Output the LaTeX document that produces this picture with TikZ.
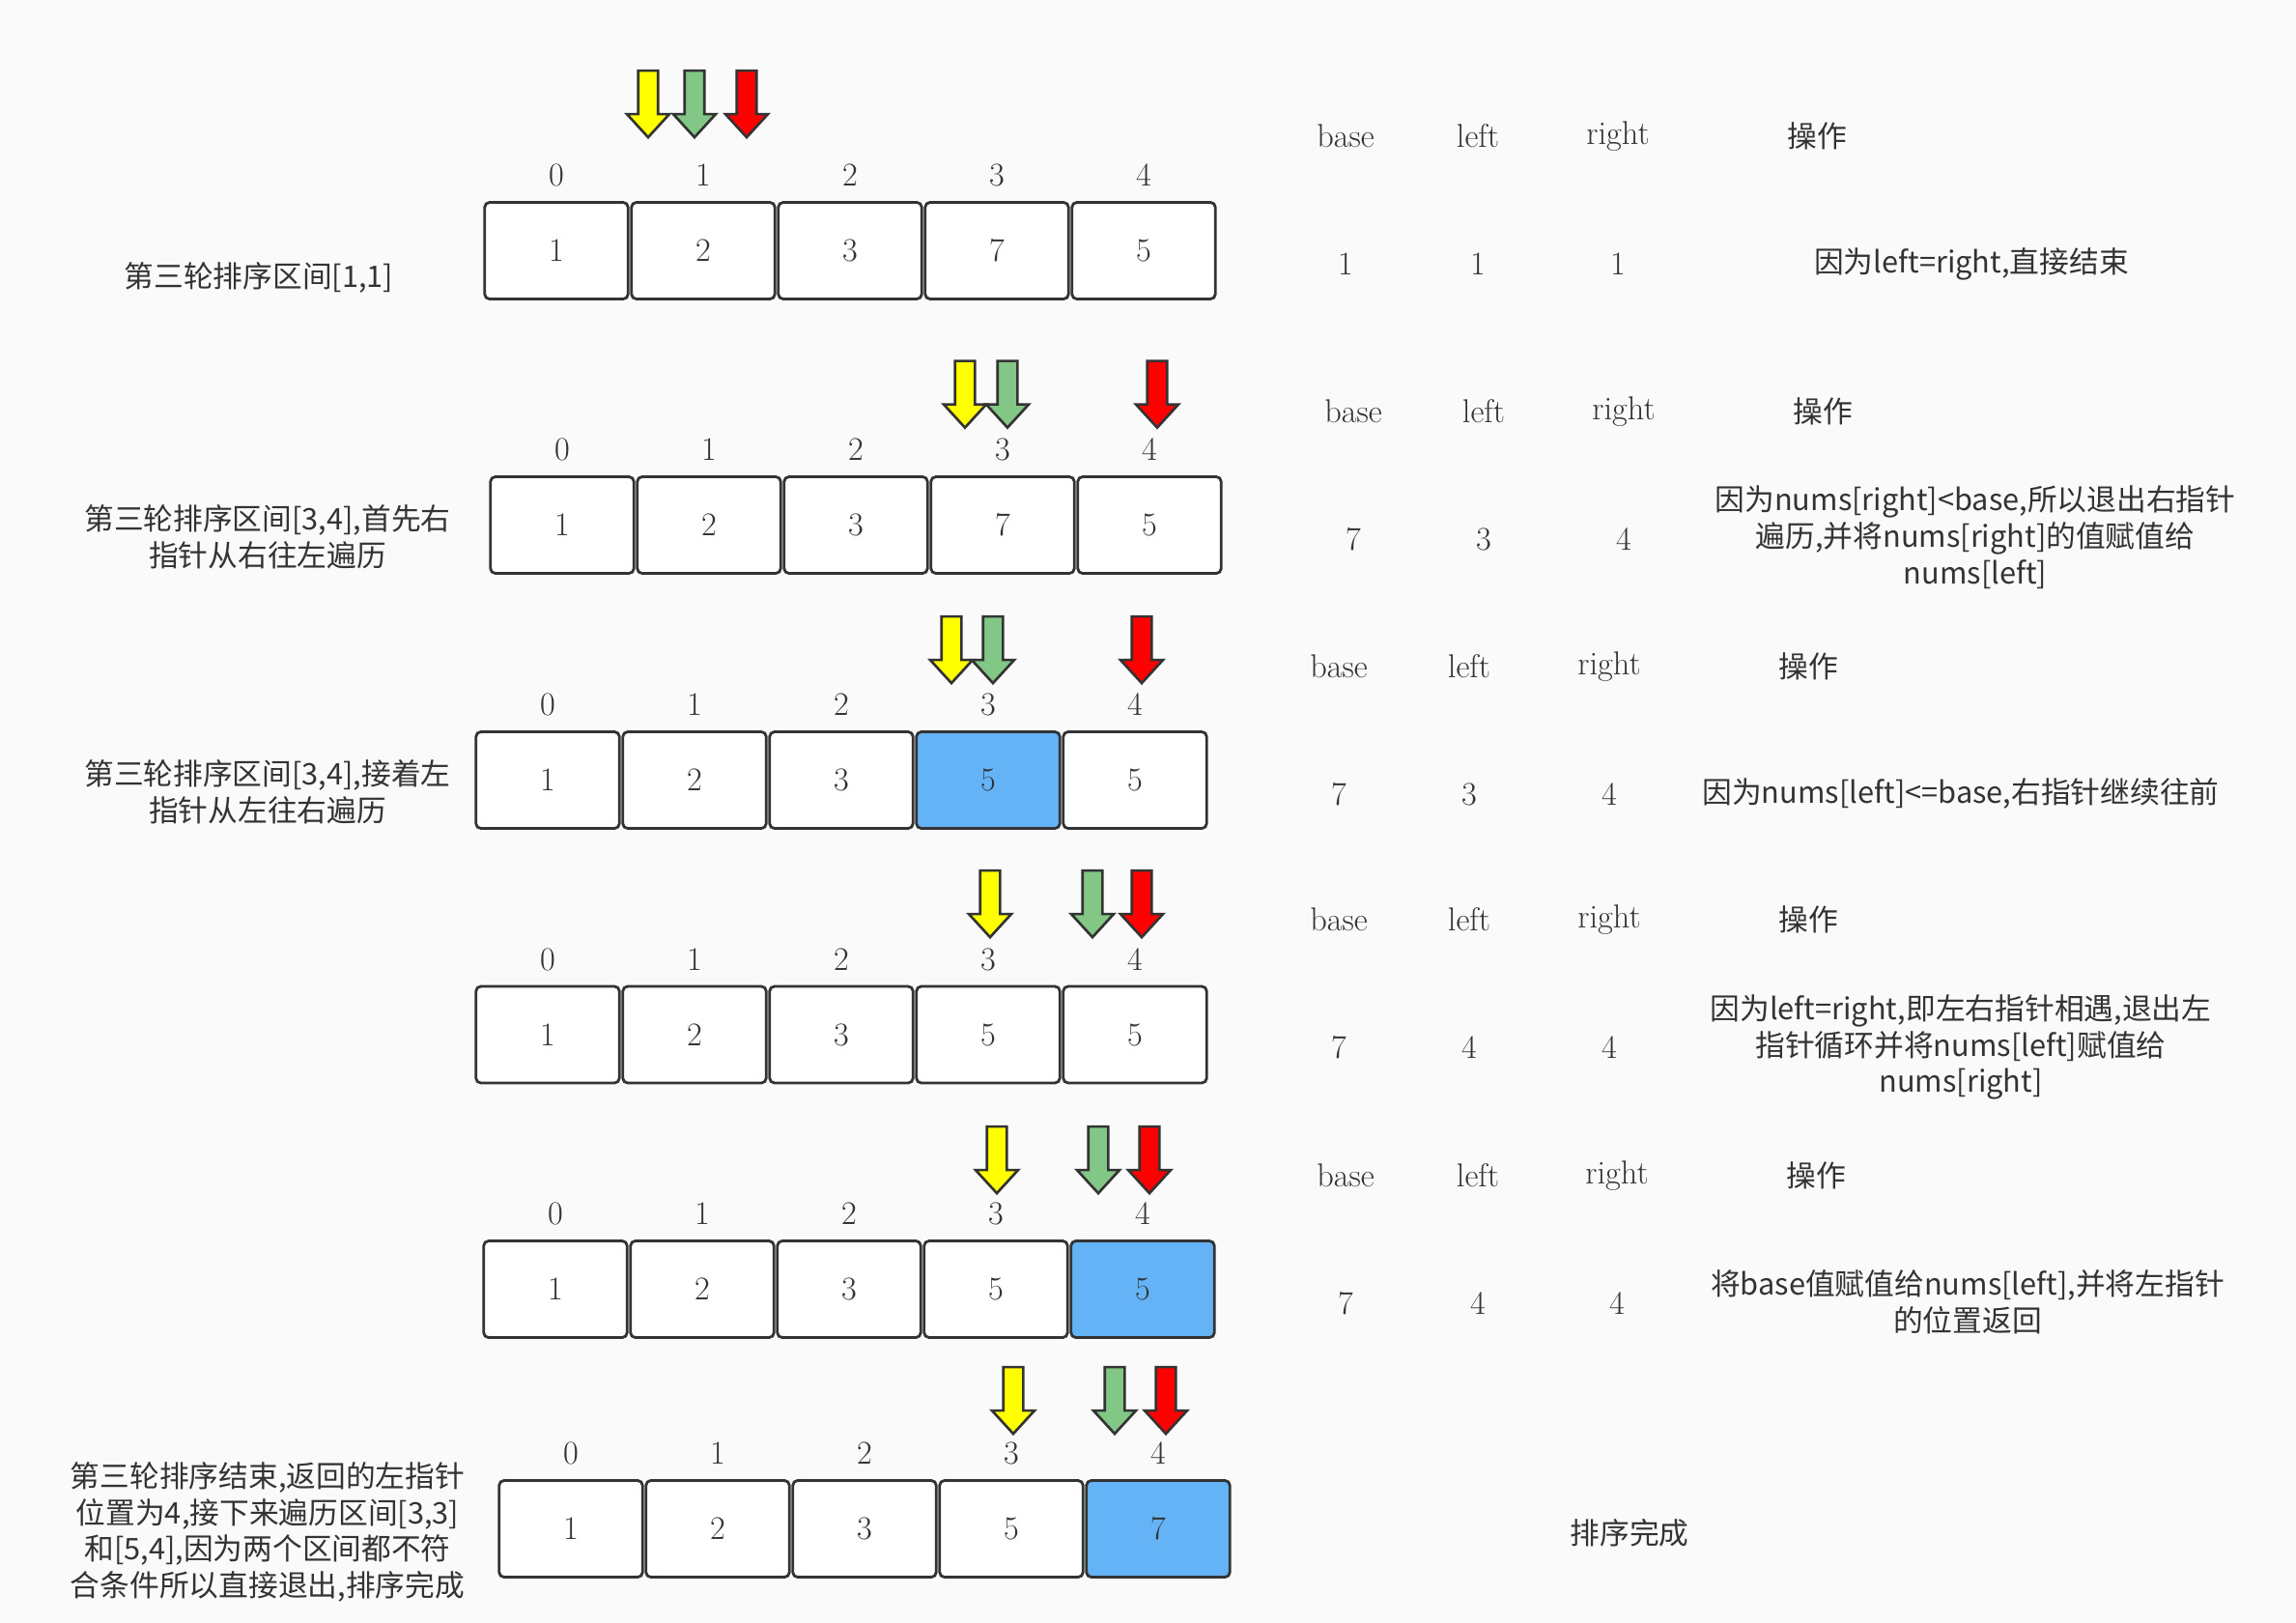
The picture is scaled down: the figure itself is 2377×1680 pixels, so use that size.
\documentclass[tikz,border=0pt]{standalone}
\usepackage{fontspec}
\usetikzlibrary{shapes.arrows,positioning}
\newfontfamily\cjk{Noto Sans CJK SC}

\definecolor{bgcol}{HTML}{FAFAFA}
\definecolor{edgecol}{HTML}{333333}
\definecolor{cellblue}{HTML}{63B3F6}
\definecolor{ptryellow}{HTML}{FFFF00}
\definecolor{ptrgreen}{HTML}{82C785}
\definecolor{ptrred}{HTML}{FF0000}

\begin{document}
\begin{tikzpicture}[
x=0.02cm,y=-0.02cm,
every node/.style={text=edgecol,font=\fontsize{19.5}{23}\selectfont},
cell/.style={draw=edgecol,line width=1.6pt,rounded corners=0.1cm,fill=white,
  minimum width=2.97cm,minimum height=2cm,inner sep=0pt},
hit/.style={cell,fill=cellblue},
idx/.style={inner sep=0pt,node distance=1.56cm},
ptr/.style={single arrow,draw=edgecol,line width=1.5pt,rotate=-90,
  minimum height=1.38cm,minimum width=0.88cm,inner sep=0.15cm,
  single arrow head extend=0.2cm,single arrow tip angle=85},
cn/.style={font=\cjk\fontsize{17.5}{21.5}\selectfont,align=center},
tab/.style={node distance=2.64cm}
]

  \fill[bgcol] (0,0) rectangle (2377,1680);
  \useasboundingbox (0,0) rectangle (2377,1680);

  % round [1,1]
  \foreach \v/\s [count=\i from 0] in {1/cell,2/cell,3/cell,7/cell,5/cell} {
    \node[\s] (r1c\i) at (576+152*\i,259.5) {\v};
    \node[idx,above of=r1c\i] (r1i\i) {\i};
  }
  \node[ptr,fill=ptryellow] (p1y) at (671,102) {};
  \node[ptr,fill=ptrgreen] (p1g) at (719,102) {};
  \node[ptr,fill=ptrred] (p1r) at (773,102) {};
  \node[cn] (lab1) at (268,287) {第三轮排序区间[1,1]};

  % round [3,4], right pointer first
  \foreach \v/\s [count=\i from 0] in {1/cell,2/cell,3/cell,7/cell,5/cell} {
    \node[\s] (r2c\i) at (582+152*\i,543.5) {\v};
    \node[idx,above of=r2c\i] (r2i\i) {\i};
  }
  \node[ptr,fill=ptryellow] (p2y) at (999,402.5) {};
  \node[ptr,fill=ptrgreen] (p2g) at (1043,402.5) {};
  \node[ptr,fill=ptrred] (p2r) at (1198,402.5) {};
  \node[cn] (lab2) at (277,556) {第三轮排序区间[3,4],首先右\\指针从右往左遍历};

  % round [3,4], then left pointer
  \foreach \v/\s [count=\i from 0] in {1/cell,2/cell,3/cell,5/hit,5/cell} {
    \node[\s] (r3c\i) at (567+152*\i,807.5) {\v};
    \node[idx,above of=r3c\i] (r3i\i) {\i};
  }
  \node[ptr,fill=ptryellow] (p3y) at (985,667) {};
  \node[ptr,fill=ptrgreen] (p3g) at (1028,667) {};
  \node[ptr,fill=ptrred] (p3r) at (1182,667) {};
  \node[cn] (lab3) at (277,820) {第三轮排序区间[3,4],接着左\\指针从左往右遍历};

  % left meets right
  \foreach \v/\s [count=\i from 0] in {1/cell,2/cell,3/cell,5/cell,5/cell} {
    \node[\s] (r4c\i) at (567+152*\i,1071) {\v};
    \node[idx,above of=r4c\i] (r4i\i) {\i};
  }
  \node[ptr,fill=ptryellow] (p4y) at (1025,930) {};
  \node[ptr,fill=ptrgreen] (p4g) at (1131,930) {};
  \node[ptr,fill=ptrred] (p4r) at (1182,930) {};

  % base written back
  \foreach \v/\s [count=\i from 0] in {1/cell,2/cell,3/cell,5/cell,5/hit} {
    \node[\s] (r5c\i) at (575+152*\i,1334.5) {\v};
    \node[idx,above of=r5c\i] (r5i\i) {\i};
  }
  \node[ptr,fill=ptryellow] (p5y) at (1032,1195) {};
  \node[ptr,fill=ptrgreen] (p5g) at (1137,1195) {};
  \node[ptr,fill=ptrred] (p5r) at (1190,1195) {};

  % done
  \foreach \v/\s [count=\i from 0] in {1/cell,2/cell,3/cell,5/cell,7/hit} {
    \node[\s] (r6c\i) at (591+152*\i,1582.5) {\v};
    \node[idx,above of=r6c\i] (r6i\i) {\i};
  }
  \node[ptr,fill=ptryellow] (p6y) at (1049,1444) {};
  \node[ptr,fill=ptrgreen] (p6g) at (1154,1444) {};
  \node[ptr,fill=ptrred] (p6r) at (1207,1444) {};
  \node[cn] (lab6) at (277,1586) {第三轮排序结束,返回的左指针\\位置为4,接下来遍历区间[3,3]\\和[5,4],因为两个区间都不符\\合条件所以直接退出,排序完成};

  % table
  \node (h1b) at (1393,141) {base};
  \node (h1l) at (1530,141) {left};
  \node (h1r) at (1675,141) {right};
  \node[cn] (h1o) at (1881,141) {操作};
  \node[tab,below of=h1b] (v1b) {1};
  \node[tab,below of=h1l] (v1l) {1};
  \node[tab,below of=h1r] (v1r) {1};
  \node[cn] (v1o) at (2041,273) {因为left=right,直接结束};

  \node (h2b) at (1401,426) {base};
  \node (h2l) at (1536,426) {left};
  \node (h2r) at (1681,426) {right};
  \node[cn] (h2o) at (1887,426) {操作};
  \node[tab,below of=h2b] (v2b) {7};
  \node[tab,below of=h2l] (v2l) {3};
  \node[tab,below of=h2r] (v2r) {4};
  \node[cn] (v2o) at (2045,556) {因为nums[right]<base,所以退出右指针\\遍历,并将nums[right]的值赋值给\\nums[left]};

  \node (h3b) at (1386,690) {base};
  \node (h3l) at (1521,690) {left};
  \node (h3r) at (1666,690) {right};
  \node[cn] (h3o) at (1872,690) {操作};
  \node[tab,below of=h3b] (v3b) {7};
  \node[tab,below of=h3l] (v3l) {3};
  \node[tab,below of=h3r] (v3r) {4};
  \node[cn] (v3o) at (2030,821) {因为nums[left]<=base,右指针继续往前};

  \node (h4b) at (1386,952) {base};
  \node (h4l) at (1521,952) {left};
  \node (h4r) at (1666,952) {right};
  \node[cn] (h4o) at (1872,952) {操作};
  \node[tab,below of=h4b] (v4b) {7};
  \node[tab,below of=h4l] (v4l) {4};
  \node[tab,below of=h4r] (v4r) {4};
  \node[cn] (v4o) at (2030,1084) {因为left=right,即左右指针相遇,退出左\\指针循环并将nums[left]赋值给\\nums[right]};

  \node (h5b) at (1393,1217) {base};
  \node (h5l) at (1530,1217) {left};
  \node (h5r) at (1674,1217) {right};
  \node[cn] (h5o) at (1880,1217) {操作};
  \node[tab,below of=h5b] (v5b) {7};
  \node[tab,below of=h5l] (v5l) {4};
  \node[tab,below of=h5r] (v5r) {4};
  \node[cn] (v5o) at (2037,1348) {将base值赋值给nums[left],并将左指针\\的位置返回};

  \node[cn] (h6o) at (1687,1587) {排序完成};

\end{tikzpicture}
\end{document}
